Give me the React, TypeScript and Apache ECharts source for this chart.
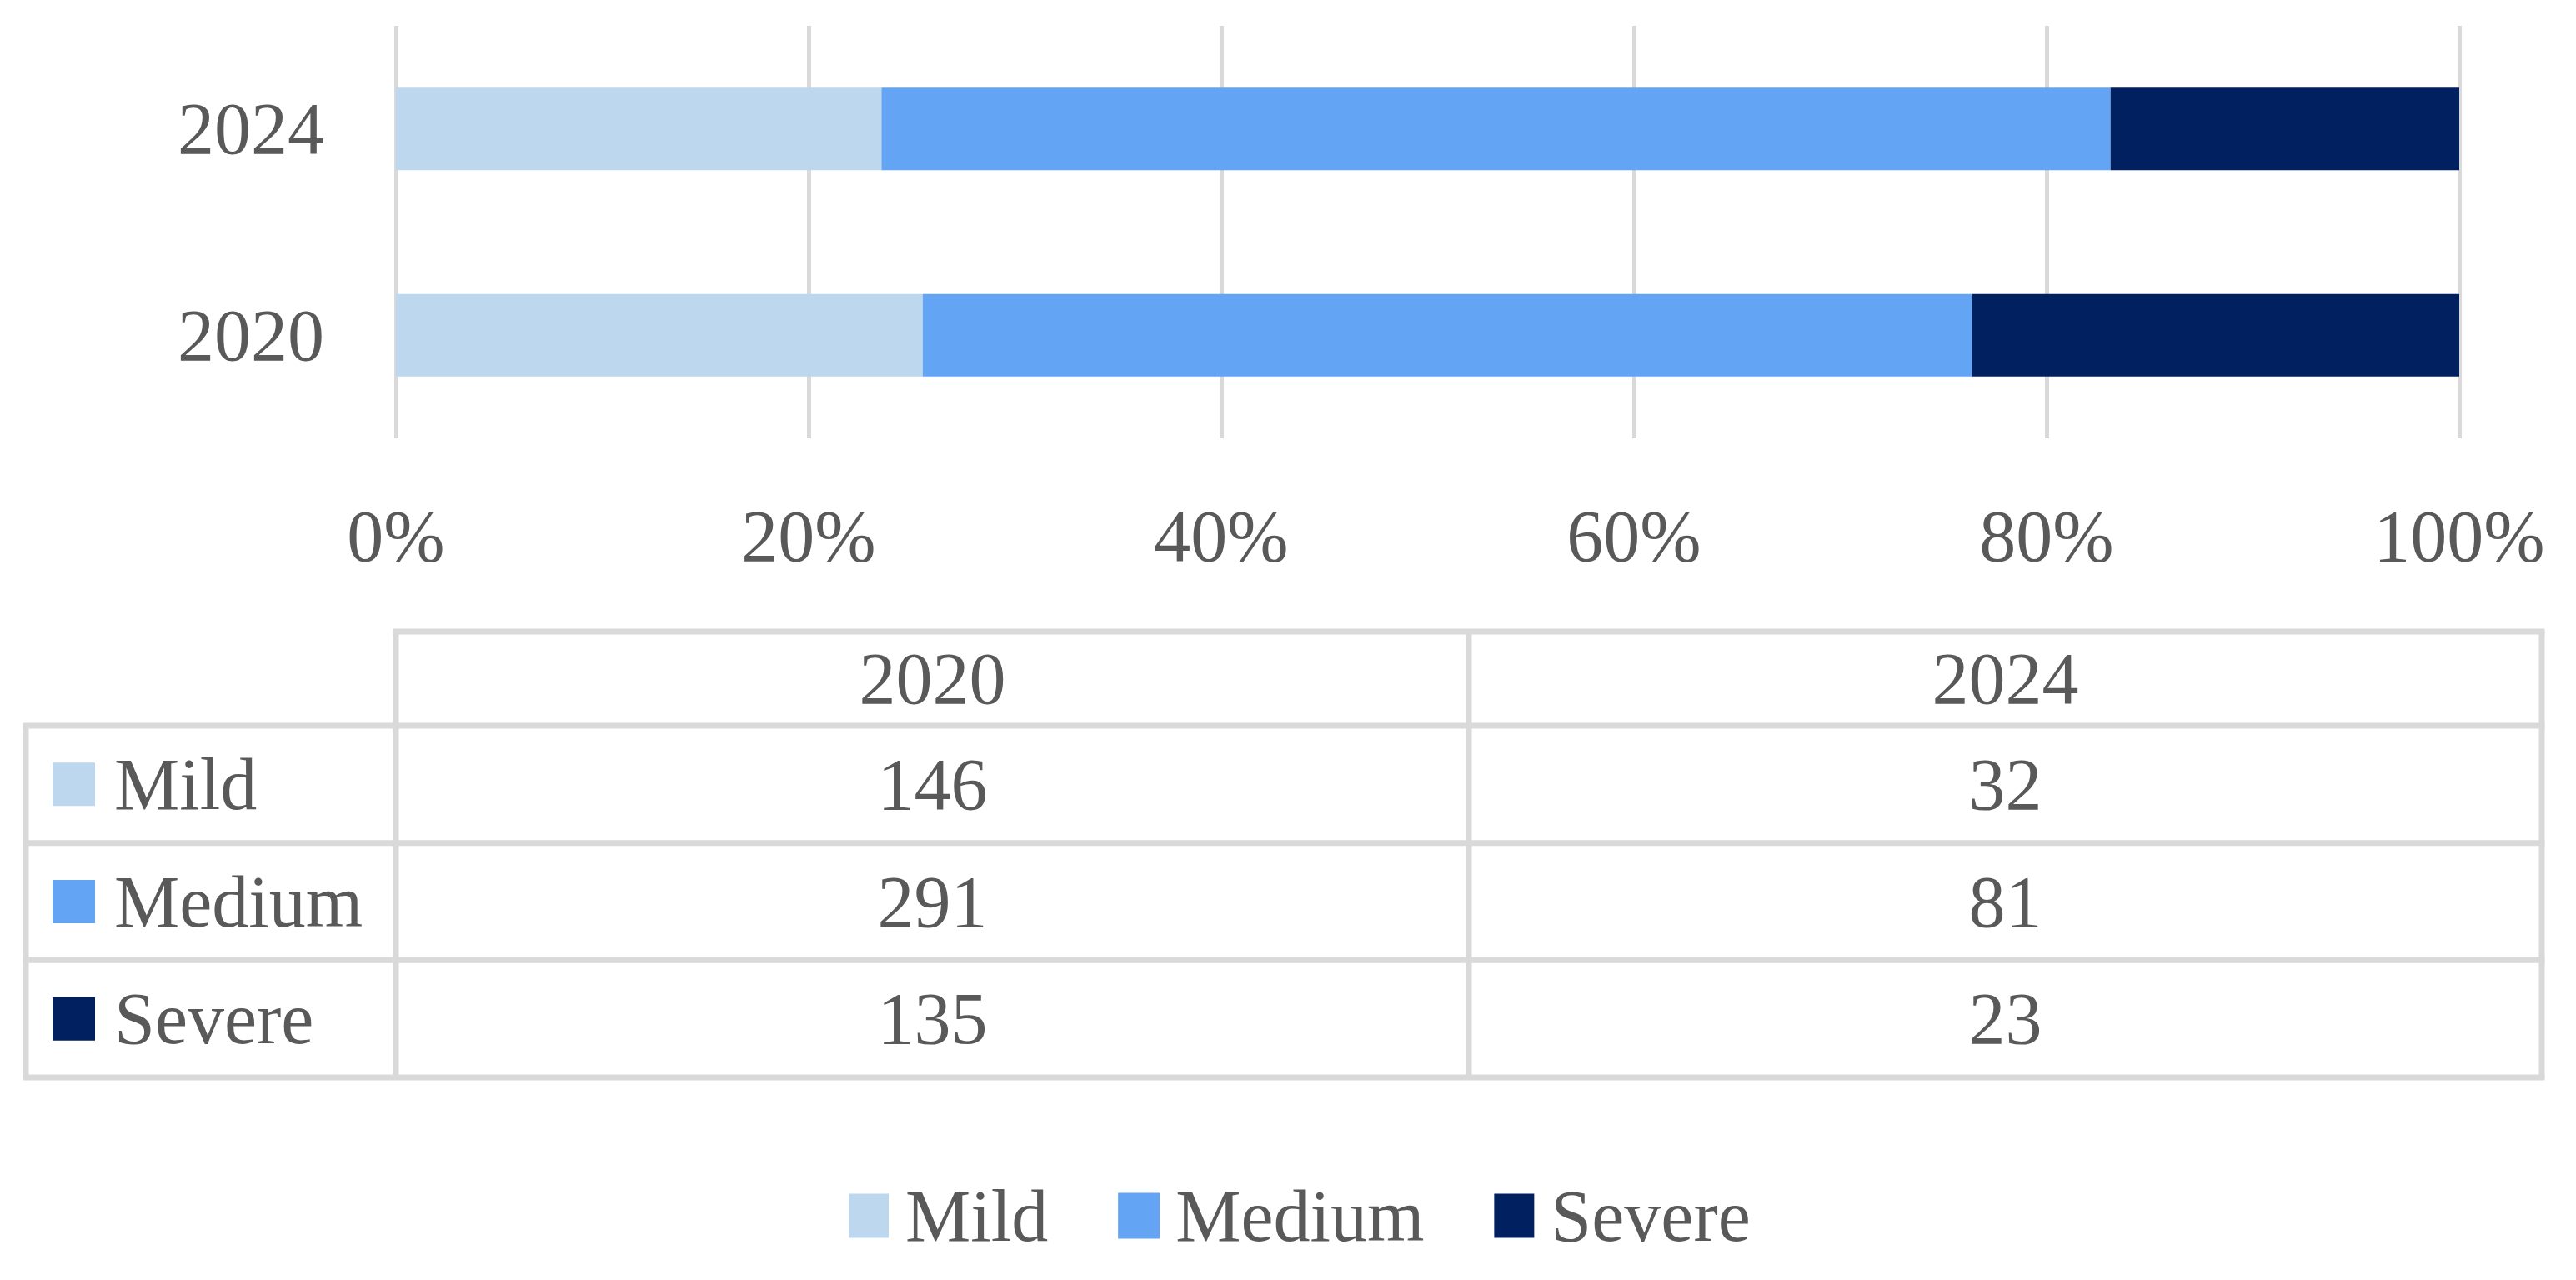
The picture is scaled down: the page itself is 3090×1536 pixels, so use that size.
import React, { useEffect, useRef } from "react";
import * as echarts from "echarts";

const categories = ["2020", "2024"];
const severities = ["Mild", "Medium", "Severe"];
const mildCounts = [146, 32];
const mediumCounts = [291, 81];
const severeCounts = [135, 23];
const colors = ["#BDD7EE", "#63A5F4", "#002060"];

const FONT = "'Liberation Serif', 'Times New Roman', serif";
const TXT = "#595959";
const LINE = "#D9D9D9";
const FS = 88;

export default function App() {
  const ref = useRef<HTMLDivElement>(null);

  useEffect(() => {
    if (!ref.current) return;
    const chart = echarts.init(ref.current, null, { renderer: "svg" });

    const counts = [mildCounts, mediumCounts, severeCounts];
    const totals = categories.map((_, i) => counts.reduce((s, arr) => s + arr[i], 0));

    const series = severities.map((name, si) => ({
      name,
      type: "bar",
      stack: "total",
      barWidth: "40%",
      data: counts[si].map((v, i) => (v / totals[i]) * 100),
      itemStyle: {
        color: colors[si],
        borderColor: colors[si],
        borderWidth: si === 1 ? 3 : 0,
      },
      z: si === 1 ? 3 : 2,
    }));

    // Data table geometry
    const tLeft = 31;
    const tLabelRight = 475;
    const tRight = 3049;
    const headerTop = 758;
    const headerBottom = 871;
    const tBottom = 1293;
    const rowH = (tBottom - headerBottom) / severities.length;
    const colW = (tRight - tLabelRight) / categories.length;
    const lw = 7;

    const g: any[] = [];
    const hline = (y: number, x1: number, x2: number) =>
      g.push({ type: "line", shape: { x1, y1: y, x2, y2: y }, style: { stroke: LINE, lineWidth: lw }, silent: true });
    const vline = (x: number, y1: number, y2: number) =>
      g.push({ type: "line", shape: { x1: x, y1, x2: x, y2 }, style: { stroke: LINE, lineWidth: lw }, silent: true });

    hline(headerTop, tLabelRight - lw / 2, tRight + lw / 2);
    for (let r = 0; r <= severities.length; r++) {
      hline(headerBottom + r * rowH, tLeft - lw / 2, tRight + lw / 2);
    }
    vline(tLeft, headerBottom, tBottom);
    for (let c = 0; c <= categories.length; c++) {
      vline(tLabelRight + c * colW, headerTop, tBottom);
    }

    categories.forEach((cat, c) => {
      g.push({
        type: "text",
        x: tLabelRight + (c + 0.5) * colW,
        y: (headerTop + headerBottom) / 2,
        style: { text: cat, fontSize: FS, fontFamily: FONT, fill: TXT, align: "center", verticalAlign: "middle" },
        silent: true,
      });
    });

    severities.forEach((name, r) => {
      const cy = headerBottom + (r + 0.5) * rowH;
      g.push({
        type: "rect",
        shape: { x: 63, y: cy - 26, width: 51, height: 52 },
        style: { fill: colors[r] },
        silent: true,
      });
      g.push({
        type: "text",
        x: 137,
        y: cy,
        style: { text: name, fontSize: FS, fontFamily: FONT, fill: TXT, align: "left", verticalAlign: "middle" },
        silent: true,
      });
      categories.forEach((_, c) => {
        g.push({
          type: "text",
          x: tLabelRight + (c + 0.5) * colW,
          y: cy,
          style: {
            text: String(counts[r][c]),
            fontSize: FS,
            fontFamily: FONT,
            fill: TXT,
            align: "center",
            verticalAlign: "middle",
          },
          silent: true,
        });
      });
    });

    chart.setOption({
      animation: false,
      backgroundColor: "#ffffff",
      textStyle: { fontFamily: FONT },
      grid: { left: 475, top: 31, width: 2475, height: 495, containLabel: false },
      xAxis: {
        type: "value",
        min: 0,
        max: 100,
        interval: 20,
        axisLine: { show: false },
        axisTick: { show: false },
        splitLine: { show: true, lineStyle: { color: LINE, width: 5 } },
        axisLabel: {
          formatter: "{value}%",
          fontSize: FS,
          fontFamily: FONT,
          color: TXT,
          margin: 73,
          lineHeight: FS,
        },
      },
      yAxis: {
        type: "category",
        data: categories,
        axisLine: { show: false },
        axisTick: { show: false },
        splitLine: { show: false },
        axisLabel: { fontSize: FS, fontFamily: FONT, color: TXT, margin: 86 },
      },
      legend: {
        data: severities,
        left: 1013,
        top: 1410,
        icon: "rect",
        itemWidth: 48,
        itemHeight: 53,
        itemGap: 84,
        selectedMode: false,
        textStyle: {
          fontSize: FS,
          fontFamily: FONT,
          color: TXT,
          lineHeight: FS,
          padding: [0, 0, 0, 15],
        },
      },
      series,
      graphic: g,
    });

    return () => chart.dispose();
  }, []);

  return (
    <div
      ref={ref}
      style={{ position: "absolute", left: 0, top: 0, width: 3090, height: 1536, background: "#fff" }}
    />
  );
}
